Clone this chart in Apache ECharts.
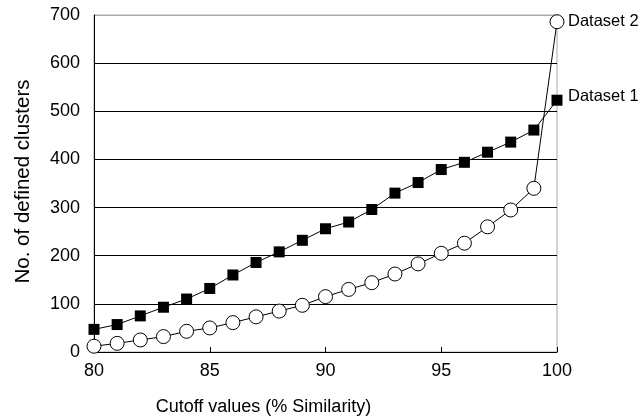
<!DOCTYPE html>
<html>
<head>
<meta charset="utf-8">
<script src="https://cdn.jsdelivr.net/npm/echarts@6/dist/echarts.min.js"></script>
<style>
html,body{margin:0;padding:0;background:#fff;}
#chart{width:644px;height:419px;}
</style>
</head>
<body>
<div id="chart"></div>
<script>
var cutoffs = [80,81,82,83,84,85,86,87,88,89,90,91,92,93,94,95,96,97,98,99,100];
var dataset1 = [47,57,75,93,110,132,160,186,208,232,256,270,296,330,352,379,394,415,436,461,523];
var dataset2 = [12,18,25,32,43,50,61,73,85,97,115,130,144,162,183,205,226,260,295,340,686];
var seriesNames = ['Dataset 1','Dataset 2'];
var xTitle = 'Cutoff values (% Similarity)';
var yTitle = 'No. of defined clusters';

var font = 'Liberation Sans, Arial, sans-serif';
function pairs(vals){ return cutoffs.map(function(c,i){ return [c, vals[i]]; }); }

var chart = echarts.init(document.getElementById('chart'), null, {renderer:'canvas'});
chart.setOption({
  animation:false,
  backgroundColor:'#fff',
  grid:{left:94,right:87,top:15,bottom:67,show:true,borderColor:'#aaa',borderWidth:1,containLabel:false,outerBoundsMode:'none'},
  xAxis:{
    type:'value',min:80,max:100,interval:5,
    axisLine:{show:true,onZero:false,lineStyle:{color:'#000',width:1}},
    axisTick:{show:true,inside:true,length:5,lineStyle:{color:'#000'}},
    axisLabel:{color:'#000',fontSize:18,fontFamily:font,margin:10},
    splitLine:{show:false},
    name:xTitle,nameLocation:'middle',nameGap:46,
    nameTextStyle:{color:'#000',fontSize:18,fontFamily:font,padding:[0,124,0,0]}
  },
  yAxis:{
    type:'value',min:0,max:700,interval:100,
    axisLine:{show:true,lineStyle:{color:'#000',width:1}},
    axisTick:{show:false},
    axisLabel:{color:'#000',fontSize:18,fontFamily:font,margin:14},
    splitLine:{show:true,lineStyle:{color:['#000','#000','#000','#000','#000','#000','#000','#aaa'],width:1}},
    name:yTitle,nameLocation:'middle',nameGap:60,
    nameTextStyle:{color:'#000',fontSize:20.5,fontFamily:font,padding:[0,0,0,4]}
  },
  series:[
    {
      name:seriesNames[0],type:'line',data:pairs(dataset1),
      symbol:'rect',symbolSize:11,
      lineStyle:{color:'#000',width:1},
      itemStyle:{color:'#000'},
      labelLine:{show:false},
      endLabel:{show:true,formatter:'{a}',color:'#000',fontSize:16.5,fontFamily:font,distance:5,offset:[6,-4]}
    },
    {
      name:seriesNames[1],type:'line',data:pairs(dataset2),
      symbol:'circle',symbolSize:14,
      lineStyle:{color:'#000',width:1},
      itemStyle:{color:'#fff',borderColor:'#000',borderWidth:1},
      labelLine:{show:false},
      endLabel:{show:true,formatter:'{a}',color:'#000',fontSize:16.5,fontFamily:font,distance:5,offset:[6,0]}
    }
  ]
});
</script>
</body>
</html>
